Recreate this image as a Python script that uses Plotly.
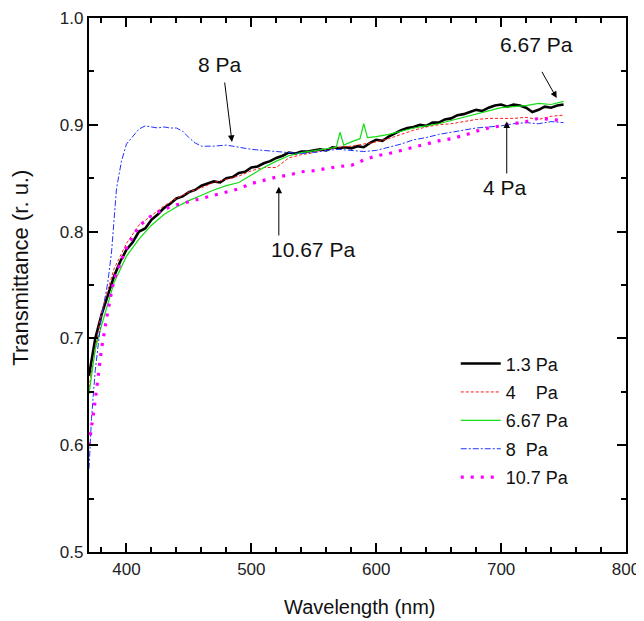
import plotly.graph_objects as go

# ---------------- data ----------------
wl_13 = [370, 375, 380, 385, 390, 395, 400, 405, 410, 415, 420, 425, 430, 435, 440, 445,
         450, 455, 460, 465, 470, 475, 480, 485, 490, 495, 500, 505, 510, 515, 520, 525,
         530, 535, 540, 545, 550, 555, 560, 565, 570, 575, 580, 585, 590, 595, 600, 605,
         610, 615, 620, 625, 630, 635, 640, 645, 650, 655, 660, 665, 670, 675, 680, 685,
         690, 695, 700, 705, 710, 715, 720, 725, 730, 735, 740, 745, 750]
t_13 = [0.665, 0.700, 0.722, 0.740, 0.758, 0.772, 0.783, 0.790, 0.800, 0.803, 0.811, 0.816,
        0.822, 0.826, 0.831, 0.833, 0.837, 0.839, 0.843, 0.845, 0.847, 0.846, 0.850, 0.851,
        0.855, 0.856, 0.860, 0.861, 0.864, 0.866, 0.869, 0.871, 0.874, 0.873, 0.875, 0.875,
        0.876, 0.877, 0.876, 0.879, 0.878, 0.879, 0.878, 0.880, 0.879, 0.883, 0.886, 0.885,
        0.889, 0.892, 0.895, 0.897, 0.898, 0.900, 0.899, 0.902, 0.902, 0.905, 0.906, 0.909,
        0.910, 0.912, 0.914, 0.913, 0.916, 0.918, 0.919, 0.917, 0.919, 0.918, 0.916, 0.912,
        0.914, 0.917, 0.916, 0.918, 0.919]

wl_4 = [370, 380, 390, 400, 410, 420, 430, 440, 450, 460, 470, 480, 490, 500, 510, 520,
        530, 540, 550, 560, 570, 580, 590, 600, 610, 620, 630, 640, 650, 660, 670, 680,
        690, 700, 710, 720, 730, 740, 750]
t_4 = [0.654, 0.725, 0.765, 0.789, 0.806, 0.815, 0.824, 0.831, 0.837, 0.841, 0.846, 0.849,
       0.852, 0.857, 0.860, 0.860, 0.869, 0.872, 0.874, 0.877, 0.879, 0.880, 0.882, 0.884,
       0.887, 0.891, 0.895, 0.898, 0.900, 0.901, 0.903, 0.905, 0.906, 0.906, 0.906, 0.907,
       0.905, 0.908, 0.909]

wl_667 = [370, 375, 380, 390, 400, 410, 420, 430, 440, 450, 460, 470, 480, 490, 500, 510,
          520, 530, 540, 550, 560, 568, 571, 574, 580, 587, 590, 593, 600, 610, 620, 630,
          640, 650, 660, 670, 680, 690, 700, 710, 720, 730, 740, 750]
t_667 = [0.648, 0.690, 0.712, 0.752, 0.777, 0.793, 0.806, 0.816, 0.823, 0.829, 0.834, 0.839,
         0.843, 0.846, 0.853, 0.860, 0.866, 0.871, 0.874, 0.876, 0.878, 0.879, 0.893, 0.881,
         0.884, 0.887, 0.901, 0.888, 0.889, 0.891, 0.894, 0.897, 0.899, 0.901, 0.904, 0.907,
         0.910, 0.913, 0.916, 0.917, 0.918, 0.920, 0.919, 0.922]

wl_8 = [370, 372, 375, 380, 385, 388, 392, 396, 400, 405, 410, 415, 420, 425, 430, 435, 440,
        445, 450, 455, 460, 470, 480, 490, 500, 510, 520, 530, 540, 550, 560, 570, 580, 590,
        600, 610, 620, 630, 640, 650, 660, 670, 680, 690, 700, 710, 720, 730, 740, 750]
t_8 = [0.578, 0.625, 0.670, 0.720, 0.752, 0.780, 0.840, 0.866, 0.882, 0.889, 0.896, 0.899,
       0.898, 0.897, 0.898, 0.897, 0.897, 0.894, 0.888, 0.883, 0.880, 0.880, 0.881, 0.879,
       0.877, 0.876, 0.875, 0.874, 0.873, 0.874, 0.876, 0.877, 0.876, 0.875, 0.876, 0.879,
       0.882, 0.886, 0.888, 0.891, 0.893, 0.895, 0.897, 0.898, 0.899, 0.901, 0.902, 0.901,
       0.903, 0.902]

wl_107 = [370, 375, 380, 385, 390, 400, 410, 420, 430, 440, 450, 460, 470, 480, 490, 500,
          510, 520, 530, 540, 550, 560, 570, 580, 590, 600, 610, 620, 630, 640, 650, 660,
          670, 680, 690, 700, 710, 720, 730, 740, 750]
t_107 = [0.600, 0.642, 0.690, 0.725, 0.755, 0.785, 0.805, 0.815, 0.821, 0.825, 0.828, 0.831,
         0.834, 0.837, 0.840, 0.845, 0.848, 0.851, 0.853, 0.856, 0.857, 0.859, 0.861, 0.862,
         0.867, 0.871, 0.873, 0.876, 0.879, 0.882, 0.885, 0.887, 0.890, 0.894, 0.897, 0.899,
         0.901, 0.903, 0.906, 0.905, 0.904]

legend_names = ["1.3 Pa", "4\u00a0\u00a0\u00a0\u00a0Pa", "6.67 Pa", "8\u00a0\u00a0Pa", "10.7 Pa"]

# annotation labels: (text, x, y)
labels = [("8 Pa", 475, 0.956), ("10.67 Pa", 549, 0.783),
          ("6.67 Pa", 728, 0.975), ("4 Pa", 703, 0.841)]
# arrows: (tail x, tail y, tip x, tip y)
arrows = [(478.5, 0.941, 484.5, 0.884), (522, 0.795, 522, 0.842),
          (732, 0.951, 744.5, 0.925), (704.5, 0.853, 704.5, 0.903)]

FONT = "Liberation Sans, Arial, sans-serif"

fig = go.Figure()
styles = [
    dict(color="#000000", width=2.6, dash="solid"),
    dict(color="#ff1a1a", width=1, dash="3px,2px"),
    dict(color="#11dd11", width=1.2, dash="solid"),
    dict(color="#2233ff", width=1, dash="6px,2px,2px,2px"),
    dict(color="#ff00ff", width=3.2, dash="3px,7px"),
]
series = [(wl_13, t_13), (wl_4, t_4), (wl_667, t_667), (wl_8, t_8), (wl_107, t_107)]
for i, ((xs, ys), st) in enumerate(zip(series, styles)):
    fig.add_trace(go.Scatter(x=xs, y=ys, mode="lines", name=legend_names[i],
                             line=st, legendgroup=f"g{i}"))

for txt, x, y in labels:
    fig.add_annotation(x=x, y=y, xref="x", yref="y", text=txt, showarrow=False,
                       font=dict(family=FONT, size=21, color="#111"))
for ax_, ay_, x, y in arrows:
    fig.add_annotation(x=x, y=y, ax=ax_, ay=ay_, xref="x", yref="y", axref="x", ayref="y",
                       text="", showarrow=True, arrowhead=2, arrowsize=1.3,
                       arrowwidth=1, arrowcolor="#000")

# axis titles
fig.add_annotation(x=-0.127, y=0.532, xref="paper", yref="paper",
                   xanchor="center", yanchor="middle",
                   text="Transmittance (r. u.)", textangle=-90, showarrow=False,
                   font=dict(family=FONT, size=22, color="#111"))
fig.add_annotation(x=0.505, y=-0.103, xref="paper", yref="paper",
                   xanchor="center", yanchor="middle",
                   text="Wavelength (nm)", showarrow=False,
                   font=dict(family=FONT, size=20, color="#111"))

axis_common = dict(showline=True, linewidth=2.2, linecolor="#000", mirror="ticks",
                   ticks="inside", ticklen=9, tickwidth=2, tickcolor="#000",
                   showgrid=False, zeroline=False,
                   tickfont=dict(family=FONT, size=17, color="#222"))
fig.update_xaxes(range=[370, 800], tick0=400, dtick=100,
                 minor=dict(tick0=400, dtick=20, ticks="inside", ticklen=5,
                            tickwidth=2, tickcolor="#000"),
                 **axis_common)
fig.update_yaxes(range=[0.5, 1.0], tick0=0.5, dtick=0.1, tickformat=".1f",
                 minor=dict(tick0=0.5, dtick=0.05, ticks="inside", ticklen=5,
                            tickwidth=2, tickcolor="#000"),
                 **axis_common)

# the page body adds an 8px offset, so the figure is 8px smaller
fig.update_layout(
    width=636, height=613,
    margin=dict(l=81, r=18, t=10, b=69, autoexpand=False),
    paper_bgcolor="white", plot_bgcolor="white",
    font=dict(family=FONT, color="#111"),
    legend=dict(x=0.683, y=0.387, xanchor="left", yanchor="top",
                bgcolor="rgba(0,0,0,0)", borderwidth=0, itemwidth=40,
                tracegroupgap=2, font=dict(family=FONT, size=18, color="#111")),
)

fig.write_html("out.html")
